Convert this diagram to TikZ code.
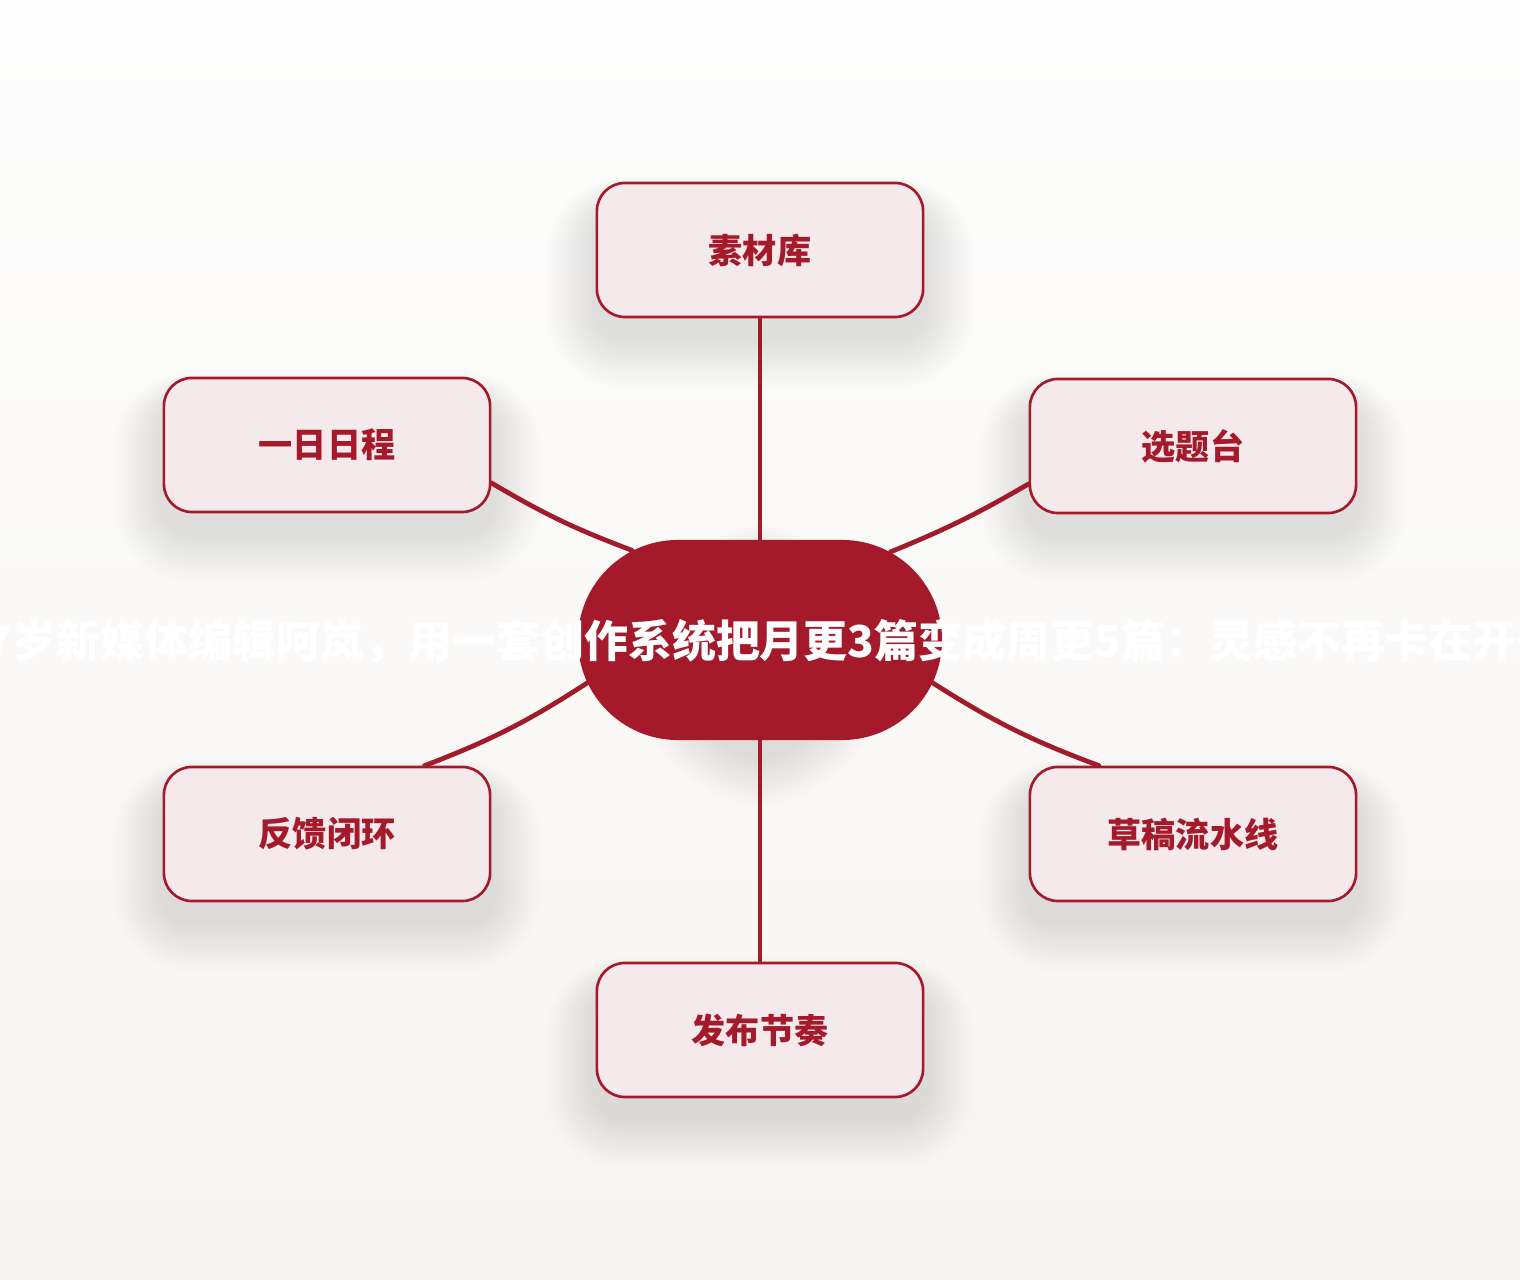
\documentclass[tikz,border=0pt]{standalone}
\usepackage{fontspec}
\setmainfont{Noto Sans CJK SC}
\usetikzlibrary{shapes.misc,backgrounds,calc}
\definecolor{mainred}{HTML}{A51A2B}
\definecolor{linered}{HTML}{A11B2A}
\definecolor{boxfill}{HTML}{F5E9EB}
\definecolor{bgtop}{HTML}{FDFDFD}
\definecolor{bgbot}{HTML}{F7F5F1}
\tikzset{
  leaf/.style={draw=mainred, line width=0.75pt, fill=boxfill, rounded corners=0.28cm,
    minimum width=3.26cm, minimum height=1.34cm, inner sep=0pt,
    text=mainred, font=\fontsize{9.7}{12}\selectfont\bfseries},
  hub/.style={rounded rectangle, fill=mainred, draw=none, minimum width=3.64cm, minimum height=2cm, inner sep=0pt},
  title/.style={text=white, font=\fontsize{12.5}{14}\selectfont\bfseries, inner sep=0pt},
  link/.style={draw=linered, line width=1.35pt, line cap=round},
  shade layer/.style={fill=black, opacity=0.0085}
}
\begin{document}
\begin{tikzpicture}[x=0.01cm,y=-0.01cm]
\useasboundingbox (0,0) rectangle (1520,1280);
\begin{scope}[on background layer]
\fill[top color=bgtop, bottom color=bgbot] (0,0) rectangle (1520,1280);
\end{scope}
% hub
\node[hub] (c) at (760,640) {};
% leaves
\node[leaf] (b1) at (760,250) {素材库};
\node[leaf] (b2) at (327,445) {一日日程};
\node[leaf] (b3) at (1193,446) {选题台};
\node[leaf] (b4) at (327,834) {反馈闭环};
\node[leaf] (b5) at (1193,834) {草稿流水线};
\node[leaf] (b6) at (760,1030) {发布节奏};
% soft shadows
\begin{scope}[on background layer]
\foreach \n in {b1,b2,b3,b4,b5,b6}{
  \foreach \k in {1,...,14}{
    \fill[shade layer, rounded corners={0.28cm+\k*0.035cm}]
      ($(\n.south west)+(-\k*3.5,20+\k*3.5)$) rectangle ($(\n.north east)+(\k*3.5,24-\k*2)$);
  }
}
\foreach \k in {1,...,14}{
  \fill[shade layer, rounded corners={1cm+\k*0.035cm}]
    ($(c.south west)+(-\k*3.5,18+\k*3.5)$) rectangle ($(c.north east)+(\k*3.5,20-\k*2.5)$);
}
\end{scope}
% connectors
\draw[link] (b1.south) -- (c.north);
\draw[link] (b2.-13.5) to[bend right=5] (c.145.7);
\draw[link] (b3.193.8) to[bend left=4] (c.34.7);
\draw[link] (c.194.4) to[bend left=6] (b4.35.8);
\draw[link] (c.-14.7) to[bend right=6] (b5.144.2);
\draw[link] (c.south) -- (b6.north);
% title
\node[title] (t) at (760,642) {27岁新媒体编辑阿岚，用一套创作系统把月更3篇变成周更5篇：灵感不再卡在开头};
\end{tikzpicture}
\end{document}
